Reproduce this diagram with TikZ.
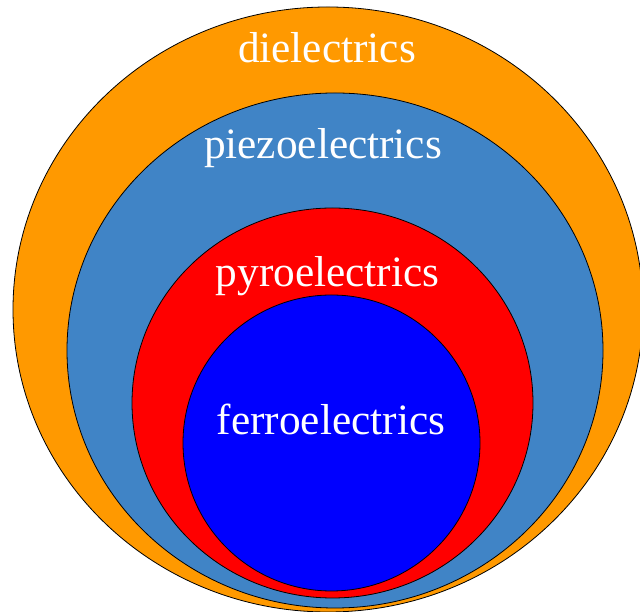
\documentclass[tikz,border=0pt]{standalone}
\usepackage{fontspec}
\setmainfont{Liberation Serif}
\definecolor{dielec}{RGB}{255,153,0}
\definecolor{piezo}{RGB}{64,132,198}
\definecolor{pyro}{RGB}{255,0,0}
\definecolor{ferro}{RGB}{0,0,255}
\tikzset{
  ring/.style={draw=black, line width=0.8pt},
  lbl/.style={text=white, font=\fontsize{43.3}{50}\selectfont, anchor=base, inner sep=0pt}
}
\begin{document}
\begin{tikzpicture}[x=1pt,y=1pt]
\useasboundingbox (0,0) rectangle (640,612);
\begin{scope}
\clip (0,0) rectangle (640,612);
\filldraw[ring, fill=dielec] (328,302.5) ellipse [x radius=315, y radius=302.5];
\filldraw[ring, fill=piezo] (335,261.5) ellipse [x radius=268, y radius=257.5];
\filldraw[ring, fill=pyro] (332.5,209) ellipse [x radius=200.5, y radius=195];
\filldraw[ring, fill=ferro] (331.5,169) ellipse [x radius=148.5, y radius=148];
\end{scope}
\node[lbl] (d) at (327,549) {dielectrics};
\node[lbl] (pz) at (323,453) {piezoelectrics};
\node[lbl] (py) at (327.5,325) {pyroelectrics};
\node[lbl] (f) at (331,177) {ferroelectrics};
\end{tikzpicture}
\end{document}
